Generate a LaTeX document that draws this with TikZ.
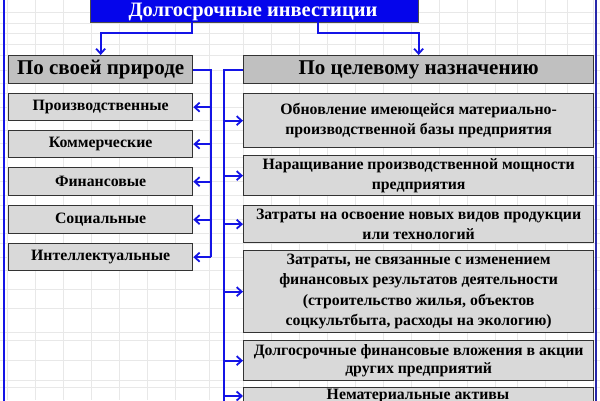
\documentclass[tikz,border=0pt]{standalone}
\usepackage{fontspec}
\setmainfont{Liberation Serif}
\usetikzlibrary{arrows.meta,calc}
\definecolor{conblue}{RGB}{20,20,230}
\definecolor{titleblue}{RGB}{5,5,235}
\definecolor{hdrgray}{RGB}{192,192,192}
\definecolor{boxgray}{RGB}{217,217,217}
\definecolor{gridgray}{RGB}{232,232,232}
\definecolor{framenavy}{RGB}{40,40,170}
\begin{document}
\begin{tikzpicture}[x=1pt,y=-1pt,
  basebox/.style={draw=black!80, line width=1.3pt, inner sep=0pt, align=center, anchor=north west},
  hdr/.style={basebox, fill=hdrgray, font=\bfseries\fontsize{21}{22}\selectfont},
  item/.style={basebox, fill=boxgray, font=\bfseries\fontsize{15.8}{20.5}\selectfont},
  conn/.style={draw=conblue, line width=1.8pt},
  arr/.style={conn, -{Straight Barb[length=5pt,width=9pt,line width=1.8pt]}}
]
\useasboundingbox (0,0) rectangle (600,400);
\clip (0,0) rectangle (600,400);
\fill[white] (0,0) rectangle (600,400);
% spreadsheet grid
\foreach \gx in {7,35,63,91,119,147,175,209,243,271,299,327,355,383,411,439,467,495,517,545,567,593}
  \draw[gridgray, line width=0.7pt] (\gx,0) -- (\gx,400);
\foreach \gy in {12,23,33,44,55,70,83,93,107,120,130,143,157,167,181,195,205,219,233,243,257,270,289,308,332,340,360,380,387}
  \draw[gridgray, line width=0.7pt] (0,\gy) -- (600,\gy);
% outer frame
\draw[conblue, line width=2pt] (3.5,-5) -- (3.5,405);
\draw[framenavy, line width=2pt] (596,-5) -- (596,405);
% title
\node[basebox, draw=black!70, line width=0.8pt, fill=titleblue,
  minimum width=328pt, minimum height=32pt] (title) at (90,-10) {};
\node[text=white, anchor=base, inner sep=0pt, font=\bfseries\fontsize{20.5}{22}\selectfont] (titletext) at (253,16.5) {Долгосрочные инвестиции};
% headers
\node[hdr, minimum width=184pt, minimum height=28pt] (nat) at (8,55) {По своей природе};
\node[hdr, minimum width=350pt, minimum height=28pt] (pur) at (243,55) {По целевому назначению};
% left items
\node[item, minimum width=184pt, minimum height=27pt] (p1) at (8,93) {Производственные};
\node[item, minimum width=184pt, minimum height=27pt] (p2) at (8,130) {Коммерческие};
\node[item, minimum width=184pt, minimum height=28pt] (p3) at (8,167) {Финансовые};
\node[item, minimum width=184pt, minimum height=28pt] (p4) at (8,205) {Социальные};
\node[item, minimum width=184pt, minimum height=27pt] (p5) at (8,243) {Интеллектуальные};
% right items
\node[item, minimum width=350pt, minimum height=54pt] (r1) at (243,93) {Обновление имеющейся материально-\\производственной базы предприятия};
\node[item, minimum width=350pt, minimum height=40pt] (r2) at (243,155) {Наращивание производственной мощности\\предприятия};
\node[item, minimum width=350pt, minimum height=37pt] (r3) at (243,205) {Затраты на освоение новых видов продукции\\или технологий};
\node[item, minimum width=350pt, minimum height=82pt] (r4) at (243,250) {Затраты, не связанные с изменением\\финансовых результатов деятельности\\(строительство жилья, объектов\\соцкультбыта, расходы на экологию)};
\node[item, minimum width=350pt, minimum height=40pt, font=\bfseries\fontsize{15.8}{17.5}\selectfont] (r5) at (243,340) {Долгосрочные финансовые вложения в акции\\других предприятий};
\node[item, minimum width=350pt, minimum height=40pt] (r6) at (243,387) {};
\node[anchor=base, inner sep=0pt, font=\bfseries\fontsize{15.8}{20}\selectfont] (r6t) at (418,399.5) {Нематериальные активы};
% title connectors
\coordinate (tl) at (192,22);
\coordinate (tr) at (318,22);
\draw[arr] (tl) -- (192,33) -| (nat.north);
\draw[arr] (tr) -- (318,33) -| (pur.north);
% left tree
\coordinate (lt) at ($(nat.east)+(18,0)$);
\draw[conn] (nat.east) -- (lt) -- (lt |- p5.east);
\foreach \b in {p1,p2,p3,p4,p5}
  \draw[arr] (lt |- \b.east) -- (\b.east);
% right tree
\coordinate (rt) at ($(pur.west)+(-19,0)$);
\coordinate (rtend) at ($(rt)+(0,360)$);
\draw[conn] (pur.west) -- (rt) -- (rtend);
\foreach \b in {r1,r2,r3,r4,r5}
  \draw[arr] (rt |- \b.west) -- (\b.west);
\draw[arr] (rt |- 0,396) -- (r6.west |- 0,396);
\end{tikzpicture}
\end{document}
